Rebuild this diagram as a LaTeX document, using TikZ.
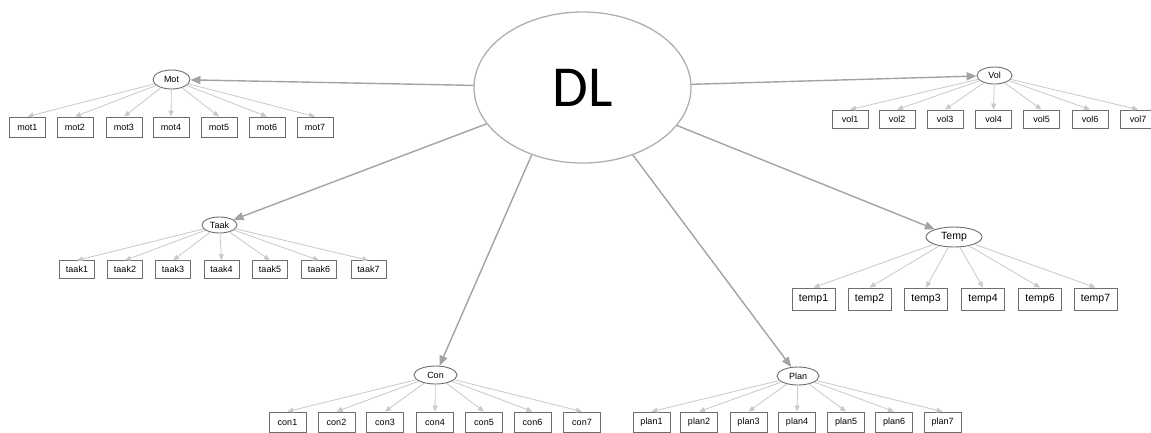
\documentclass[tikz,border=0pt]{standalone}
\usepackage{fontspec}
\setmainfont{Liberation Sans}
\newfontfamily\dlfont{Carlito}
\usetikzlibrary{arrows.meta, shapes.geometric}
\definecolor{pathgray}{HTML}{A3A3A3}
\definecolor{loadgray}{HTML}{C8C8C8}
\definecolor{boxgray}{HTML}{6E6E6E}
\definecolor{dlgray}{HTML}{AFAFAF}
\newcommand\obsfont{\fontsize{9}{10}\selectfont}

\begin{document}
\begin{tikzpicture}[x=1pt, y=-1pt,
  lat/.style = {draw=boxgray, ellipse, inner sep=0pt, line width=0.9pt, font=\obsfont},
  obs/.style = {draw=boxgray, rectangle, inner sep=0pt, line width=0.9pt, minimum width=36, minimum height=20, font=\obsfont},
  path/.style = {draw=pathgray, line width=1.4pt, -{Triangle[length=10pt, width=8pt]}},
  load/.style = {draw=loadgray, line width=0.8pt, -{Triangle[length=6pt, width=5pt]}}]
\useasboundingbox (0,0) rectangle (1151,432);
\clip (0,0) rectangle (1151,432);
% second order factor
\node[ellipse, draw=dlgray, line width=1.3pt, inner sep=0pt, minimum width=217, minimum height=151, font=\dlfont\fontsize{58}{60}\selectfont] (DL) at (582.5,87.5) {DL};
% first order factors
\node[lat, minimum width=37, minimum height=19] (Mot) at (171.5,79.5) {Mot};
\node[lat, minimum width=35, minimum height=17] (Vol) at (994.5,75.5) {Vol};
\node[lat, minimum width=35, minimum height=16] (Taak) at (219.5,225) {Taak};
\node[lat, minimum width=56, minimum height=20, font=\fontsize{10.5}{12}\selectfont] (Temp) at (954,237) {Temp};
\node[lat, minimum width=43, minimum height=18] (Con) at (435.5,375) {Con};
\node[lat, minimum width=42, minimum height=18] (Plan) at (798,376) {Plan};
% items
\node[obs] (mot1) at (27.5,127) {mot1}; \node[obs] (mot2) at (75,127) {mot2}; \node[obs] (mot3) at (124,127) {mot3}; \node[obs] (mot4) at (171,127) {mot4};
\node[obs] (mot5) at (219,127) {mot5}; \node[obs] (mot6) at (267,127) {mot6}; \node[obs] (mot7) at (315,127) {mot7};
\node[obs, minimum height=18] (vol1) at (850,119) {vol1}; \node[obs, minimum height=18] (vol2) at (897,119) {vol2}; \node[obs, minimum height=18] (vol3) at (945,119) {vol3}; \node[obs, minimum height=18] (vol4) at (993.5,119) {vol4};
\node[obs, minimum height=18] (vol5) at (1041.5,119) {vol5}; \node[obs, minimum height=18] (vol6) at (1090,119) {vol6}; \node[obs, minimum height=18] (vol7) at (1138,119) {vol7};
\node[obs, minimum width=35, minimum height=17.5] (taak1) at (77,269.5) {taak1}; \node[obs, minimum width=35, minimum height=17.5] (taak2) at (125,269.5) {taak2}; \node[obs, minimum width=35, minimum height=17.5] (taak3) at (173,269.5) {taak3}; \node[obs, minimum width=35, minimum height=17.5] (taak4) at (221.5,269.5) {taak4};
\node[obs, minimum width=35, minimum height=17.5] (taak5) at (270,269.5) {taak5}; \node[obs, minimum width=35, minimum height=17.5] (taak6) at (319,269.5) {taak6}; \node[obs, minimum width=35, minimum height=17.5] (taak7) at (368.5,269.5) {taak7};
\node[obs, minimum width=43, minimum height=22, font=\fontsize{10.5}{12}\selectfont] (temp1) at (813.5,299) {temp1}; \node[obs, minimum width=43, minimum height=22, font=\fontsize{10.5}{12}\selectfont] (temp2) at (869.5,299) {temp2}; \node[obs, minimum width=43, minimum height=22, font=\fontsize{10.5}{12}\selectfont] (temp3) at (926,299) {temp3};
\node[obs, minimum width=43, minimum height=22, font=\fontsize{10.5}{12}\selectfont] (temp4) at (983,299) {temp4}; \node[obs, minimum width=43, minimum height=22, font=\fontsize{10.5}{12}\selectfont] (temp6) at (1040,299) {temp6}; \node[obs, minimum width=43, minimum height=22, font=\fontsize{10.5}{12}\selectfont] (temp7) at (1095.5,299) {temp7};
\node[obs, minimum width=37] (con1) at (287.5,422) {con1}; \node[obs, minimum width=37] (con2) at (336.5,422) {con2}; \node[obs, minimum width=37] (con3) at (385,422) {con3}; \node[obs, minimum width=37] (con4) at (435,422) {con4};
\node[obs, minimum width=37] (con5) at (484,422) {con5}; \node[obs, minimum width=37] (con6) at (532.5,422) {con6}; \node[obs, minimum width=37] (con7) at (582,422) {con7};
\node[obs, minimum width=37] (plan1) at (651.5,422) {plan1}; \node[obs, minimum width=37] (plan2) at (699,422) {plan2}; \node[obs, minimum width=37] (plan3) at (748.5,422) {plan3}; \node[obs, minimum width=37] (plan4) at (797,422) {plan4};
\node[obs, minimum width=37] (plan5) at (846,422) {plan5}; \node[obs, minimum width=37] (plan6) at (894,422) {plan6}; \node[obs, minimum width=37] (plan7) at (942.5,422) {plan7};
% structural paths
\draw[path] (DL) -- (Mot);
\draw[path] (DL) -- (Vol);
\draw[path] (DL) -- (Taak);
\draw[path] (DL) -- (Temp);
\draw[path] (DL.233) -- (Con);
\draw[path] (DL) -- (Plan);
% loadings
\draw[load] (Mot) -- (mot1.north); \draw[load] (Mot) -- (mot2.north); \draw[load] (Mot) -- (mot3.north); \draw[load] (Mot) -- (mot4.north); \draw[load] (Mot) -- (mot5.north); \draw[load] (Mot) -- (mot6.north); \draw[load] (Mot) -- (mot7.north);
\draw[load] (Vol) -- (vol1.north); \draw[load] (Vol) -- (vol2.north); \draw[load] (Vol) -- (vol3.north); \draw[load] (Vol) -- (vol4.north); \draw[load] (Vol) -- (vol5.north); \draw[load] (Vol) -- (vol6.north); \draw[load] (Vol) -- (vol7.north);
\draw[load] (Taak) -- (taak1.north); \draw[load] (Taak) -- (taak2.north); \draw[load] (Taak) -- (taak3.north); \draw[load] (Taak) -- (taak4.north); \draw[load] (Taak) -- (taak5.north); \draw[load] (Taak) -- (taak6.north); \draw[load] (Taak) -- (taak7.north);
\draw[load] (Temp) -- (temp1.north); \draw[load] (Temp) -- (temp2.north); \draw[load] (Temp) -- (temp3.north); \draw[load] (Temp) -- (temp4.north); \draw[load] (Temp) -- (temp6.north); \draw[load] (Temp) -- (temp7.north);
\draw[load] (Con) -- (con1.north); \draw[load] (Con) -- (con2.north); \draw[load] (Con) -- (con3.north); \draw[load] (Con) -- (con4.north); \draw[load] (Con) -- (con5.north); \draw[load] (Con) -- (con6.north); \draw[load] (Con) -- (con7.north);
\draw[load] (Plan) -- (plan1.north); \draw[load] (Plan) -- (plan2.north); \draw[load] (Plan) -- (plan3.north); \draw[load] (Plan) -- (plan4.north); \draw[load] (Plan) -- (plan5.north); \draw[load] (Plan) -- (plan6.north); \draw[load] (Plan) -- (plan7.north);
\end{tikzpicture}
\end{document}
